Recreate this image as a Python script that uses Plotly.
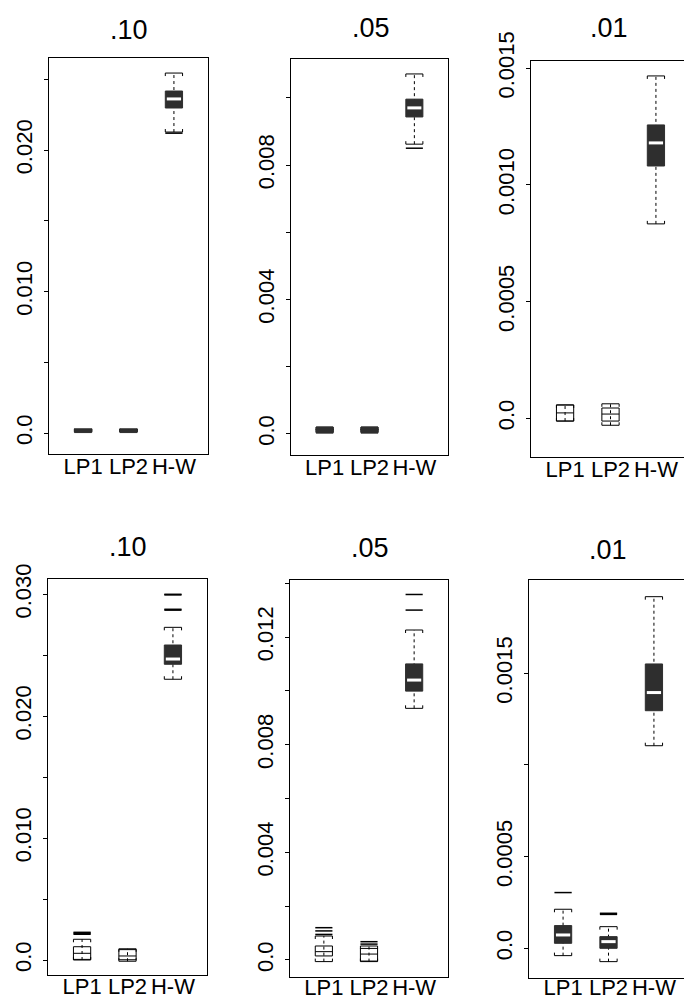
import plotly.graph_objects as go

# ---------------- data ----------------
categories = ["LP1", "LP2", "H-W"]
positions = [1, 2, 3]
titles = [".10", ".05", ".01", ".10", ".05", ".01"]

# top row, level .10
p1_low = [0.0001, 0.0001, 0.02128]
p1_q1 = [0.00003, 0.00003, 0.02298]
p1_med = [0.00012, 0.00012, 0.02362]
p1_q3 = [0.00028, 0.00028, 0.02418]
p1_high = [0.00028, 0.00028, 0.02545]
p1_out = [[], [], [0.0212]]

# top row, level .05
p2_low = [0.00005, 0.00005, 0.00862]
p2_q1 = [0.00002, 0.00002, 0.00943]
p2_med = [0.0001, 0.0001, 0.0097]
p2_q3 = [0.0002, 0.0002, 0.00996]
p2_high = [0.0002, 0.0002, 0.01071]
p2_out = [[], [], [0.0085]]

# top row, level .01
p3_low = [-0.000012, -0.00003, 0.000833]
p3_q1 = [-0.000012, -0.000012, 0.001081]
p3_med = [0.000023, 0.000018, 0.00118]
p3_q3 = [0.000057, 0.000044, 0.001257]
p3_high = [0.000057, 0.000062, 0.001467]
p3_out = [[], [], []]

# bottom row, level .10
p4_low = [0.0, -0.0001, 0.02303]
p4_q1 = [0.00005, 0.00002, 0.02426]
p4_med = [0.00055, 0.00033, 0.02469]
p4_q3 = [0.00109, 0.00085, 0.02584]
p4_high = [0.0017, 0.00092, 0.02729]
p4_out = [[0.00211, 0.00219, 0.00227], [], [0.0287, 0.02877, 0.02995, 0.0300]]

# bottom row, level .05
p5_low = [-0.00006, -0.00006, 0.00935]
p5_q1 = [0.00015, -0.00004, 0.00999]
p5_med = [0.00031, 0.00022, 0.0104]
p5_q3 = [0.00052, 0.00043, 0.011]
p5_high = [0.00089, 0.00052, 0.01226]
p5_out = [[0.00095, 0.00108, 0.0012], [0.00059, 0.00068], [0.0130, 0.01358]]

# bottom row, level .01
p6_low = [-0.00004, -0.0000727, 0.001105]
p6_q1 = [0.0000273, 0.0, 0.001296]
p6_med = [0.0000727, 0.0000364, 0.001395]
p6_q3 = [0.000124, 0.0000636, 0.001551]
p6_high = [0.000213, 0.000118, 0.001918]
p6_out = [[0.000304], [0.000185, 0.000191], []]

# y tick positions and labels
p1_ticks = [0, 0.005, 0.010, 0.015, 0.020, 0.025]
p1_labels = ["0.0", "", "0.010", "", "0.020", ""]
p2_ticks = [0, 0.002, 0.004, 0.006, 0.008, 0.010]
p2_labels = ["0.0", "", "0.004", "", "0.008", ""]
p3_ticks = [0, 0.0005, 0.0010, 0.0015]
p3_labels = ["0.0", "0.0005", "0.0010", "0.0015"]
p4_ticks = [0, 0.005, 0.010, 0.015, 0.020, 0.025, 0.030]
p4_labels = ["0.0", "", "0.010", "", "0.020", "", "0.030"]
p5_ticks = [0, 0.002, 0.004, 0.006, 0.008, 0.010, 0.012, 0.014]
p5_labels = ["0.0", "", "0.004", "", "0.008", "", "0.012", ""]
p6_ticks = [0, 0.0005, 0.0010, 0.0015]
p6_labels = ["0.0", "0.0005", "", "0.0015"]

# ---------------- layout geometry (pixels) ----------------
W, H = 684, 1001
FONT = "Liberation Sans, Arial, Helvetica, sans-serif"
BOXFILL = "#2e2e2e"

panels = [
    dict(stats=(p1_low, p1_q1, p1_med, p1_q3, p1_high, p1_out), ticks=p1_ticks, labels=p1_labels,
         frame=(49, 208, 58, 454), full_right=208, yr=(-0.001485, 0.026515), open=[False, False, False],
         title_xy=(129, 30), xstand=-7),
    dict(stats=(p2_low, p2_q1, p2_med, p2_q3, p2_high, p2_out), ticks=p2_ticks, labels=p2_labels,
         frame=(291, 448, 59, 455), full_right=448, yr=(-0.000631, 0.011155), open=[False, False, False],
         title_xy=(371, 28), xstand=-7),
    dict(stats=(p3_low, p3_q1, p3_med, p3_q3, p3_high, p3_out), ticks=p3_ticks, labels=p3_labels,
         frame=(531, 684, 61, 457), full_right=690, yr=(-0.000166, 0.001531), open=[True, True, False],
         title_xy=(609, 28), xstand=-7),
    dict(stats=(p4_low, p4_q1, p4_med, p4_q3, p4_high, p4_out), ticks=p4_ticks, labels=p4_labels,
         frame=(48, 207, 579, 975), full_right=207, yr=(-0.00123, 0.031255), open=[True, True, False],
         title_xy=(128, 547), xstand=-8),
    dict(stats=(p5_low, p5_q1, p5_med, p5_q3, p5_high, p5_out), ticks=p5_ticks, labels=p5_labels,
         frame=(290, 448, 580, 977), full_right=448, yr=(-0.000632, 0.014118), open=[True, True, False],
         title_xy=(370, 548), xstand=-9),
    dict(stats=(p6_low, p6_q1, p6_med, p6_q3, p6_high, p6_out), ticks=p6_ticks, labels=p6_labels,
         frame=(529, 684, 580, 978), full_right=688, yr=(-0.000162, 0.002009), open=[False, False, False],
         title_xy=(608, 550), xstand=-10),
]

fig = go.Figure()
layout = dict(
    width=W, height=H, margin=dict(l=0, r=0, t=0, b=0, pad=0, autoexpand=False),
    paper_bgcolor="white", plot_bgcolor="white", showlegend=False,
    font=dict(family=FONT, color="black"),
)
annotations = []

XL, XR = 0.25, 3.75
HALF = 0.19  # half box width in x units

for k, p in enumerate(panels):
    idx = "" if k == 0 else str(k + 1)
    xl, xr, yt, yb = p["frame"]
    full_w = p["full_right"] - xl
    x_end = XL + (XR - XL) * (xr - xl) / full_w
    y0, y1 = p["yr"]
    px_per_y = (yb - yt) / (y1 - y0)
    px_per_x = full_w / (XR - XL)
    clipped = p["full_right"] > W

    layout["xaxis" + idx] = dict(
        domain=[xl / W, xr / W], anchor="y" + idx, range=[XL, x_end],
        showline=True, linecolor="black", linewidth=1, mirror=True,
        ticks="", tickvals=positions, ticktext=categories,
        tickfont=dict(family=FONT, size=22, color="black"),
        ticklabelstandoff=p["xstand"],
        showgrid=False, zeroline=False, fixedrange=True, automargin=False,
    )
    layout["yaxis" + idx] = dict(
        domain=[1 - yb / H, 1 - yt / H], anchor="x" + idx, range=[y0, y1],
        showline=True, linecolor="black", linewidth=1, mirror=(not clipped),
        ticks="outside", ticklen=4, tickcolor="black", tickwidth=1,
        tickvals=p["ticks"], ticktext=p["labels"], tickangle=-90,
        tickfont=dict(family=FONT, size=22, color="black"),
        ticklabelstandoff=3,
        showgrid=False, zeroline=False, fixedrange=True, automargin=False,
    )

    low, q1, med, q3, high, outs = p["stats"]
    cap_t = 3.0 / px_per_y
    inset = 1.5 / px_per_x
    xa, ya = "x" + idx, "y" + idx

    wx, wy, cx, cy, ox, oy = [], [], [], [], [], []
    for i, pos in enumerate(positions):
        # whisker (full dotted line, box drawn over it)
        wx += [pos, pos, None]
        wy += [low[i], high[i], None]
        # caps with bracket ends
        cx += [pos - HALF, pos - HALF, pos + HALF, pos + HALF, None,
               pos - HALF, pos - HALF, pos + HALF, pos + HALF, None]
        cy += [high[i] - cap_t, high[i], high[i], high[i] - cap_t, None,
               low[i] + cap_t, low[i], low[i], low[i] + cap_t, None]
        for o in outs[i]:
            ox += [pos - HALF, pos + HALF, None]
            oy += [o, o, None]

    fig.add_trace(go.Scatter(x=wx, y=wy, mode="lines", xaxis=xa, yaxis=ya,
                             line=dict(color="black", width=1, dash="dot"), hoverinfo="skip"))
    fig.add_trace(go.Scatter(x=cx, y=cy, mode="lines", xaxis=xa, yaxis=ya,
                             line=dict(color="black", width=1), hoverinfo="skip"))
    if ox:
        fig.add_trace(go.Scatter(x=ox, y=oy, mode="lines", xaxis=xa, yaxis=ya,
                                 line=dict(color="black", width=1.5), hoverinfo="skip"))

    for i, pos in enumerate(positions):
        is_open = p["open"][i]
        fig.add_trace(go.Scatter(
            x=[pos - HALF, pos + HALF, pos + HALF, pos - HALF, pos - HALF],
            y=[q1[i], q1[i], q3[i], q3[i], q1[i]],
            mode="lines", fill="toself", xaxis=xa, yaxis=ya,
            fillcolor="rgba(255,255,255,0)" if is_open else BOXFILL,
            line=dict(color="black" if is_open else BOXFILL, width=1), hoverinfo="skip"))
        box_px = (q3[i] - q1[i]) * px_per_y
        if is_open:
            fig.add_trace(go.Scatter(x=[pos - HALF, pos + HALF], y=[med[i], med[i]],
                                     mode="lines", xaxis=xa, yaxis=ya,
                                     line=dict(color="black", width=1), hoverinfo="skip"))
        elif box_px > 8:
            fig.add_trace(go.Scatter(x=[pos - HALF + inset, pos + HALF - inset], y=[med[i], med[i]],
                                     mode="lines", xaxis=xa, yaxis=ya,
                                     line=dict(color="white", width=3), hoverinfo="skip"))

    tx, ty = p["title_xy"]
    annotations.append(dict(text=titles[k], x=tx / W, y=1 - ty / H, xref="paper", yref="paper",
                            xanchor="center", yanchor="middle", showarrow=False,
                            font=dict(family=FONT, size=27, color="black")))

layout["annotations"] = annotations
fig.update_layout(**layout)
fig.write_html("out.html")
